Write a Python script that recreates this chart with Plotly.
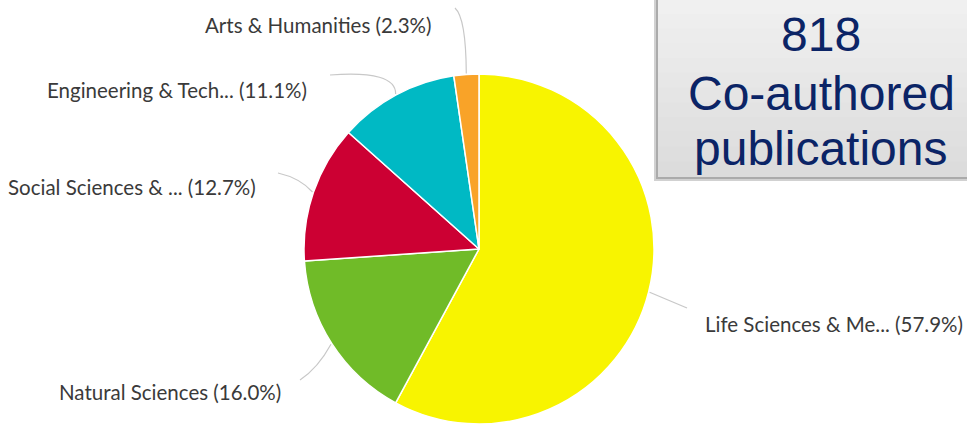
import numpy as np
import plotly.graph_objects as go

# ---- data ----
categories = ["Life Sciences & Me...", "Natural Sciences", "Social Sciences & ...",
              "Engineering & Tech...", "Arts & Humanities"]
shares = [57.9, 16.0, 12.7, 11.1, 2.3]
colors = ["#F8F400", "#70BB28", "#CC0033", "#00B9C4", "#F9A328"]
total_pubs = 818
box_lines = [str(total_pubs), "Co-authored", "publications"]

W, H = 967, 439
CX, CY, R = 479, 249, 175  # pie placement in pixels (layout)
LABEL_FONT = "Lato"

def px(x):
    return x / W

def py(y):
    return 1 - y / H

fig = go.Figure()
fig.add_trace(go.Pie(
    labels=categories, values=shares, sort=False, direction="clockwise", rotation=0,
    marker=dict(colors=colors, line=dict(color="white", width=1.5)),
    textinfo="none", hoverinfo="label+percent", showlegend=False,
    domain=dict(x=[px(CX - R), px(CX + R)], y=[py(CY + R), py(CY - R)]),
))

# label layout: (anchor x, y, xanchor, leader start, control point)
label_layout = [
    (703, 324, "left", (687, 308), (668, 300)),
    (283, 392, "right", (300, 380), (318, 368)),
    (258, 187, "right", (278, 173), (300, 178)),
    (309, 90, "right", (330, 75), (396, 70)),
    (434, 25, "right", (455, 8), (466, 18)),
]

shapes = []
annotations = []
cum = np.cumsum([0] + shares)
for i, (cat, val) in enumerate(zip(categories, shares)):
    mid = (cum[i] + val / 2) / sum(shares) * 2 * np.pi
    ex = CX + (R + 1) * np.sin(mid)
    ey = CY - (R + 1) * np.cos(mid)
    lx, ly, xa, (sx, sy), (qx, qy) = label_layout[i]
    shapes.append(dict(
        type="path", xref="paper", yref="paper",
        path=f"M {px(sx)} {py(sy)} Q {px(qx)} {py(qy)} {px(ex)} {py(ey)}",
        line=dict(color="#C8C8C8", width=1.2),
    ))
    annotations.append(dict(
        x=px(lx), y=py(ly), xref="paper", yref="paper", xanchor=xa, yanchor="middle",
        text=f"{cat} ({val:.1f}%)", showarrow=False,
        font=dict(family=LABEL_FONT, size=20.5, color="#3A3A3A"),
    ))

# info box with shadow
shapes.append(dict(type="rect", xref="paper", yref="paper", x0=px(654), x1=1.01,
                   y0=py(181), y1=1.01, fillcolor="rgba(0,0,0,0.18)", line=dict(width=0)))
shapes.append(dict(type="rect", xref="paper", yref="paper", x0=px(656), x1=1.01,
                   y0=py(179), y1=1.01, fillcolor="rgba(0,0,0,0.18)", line=dict(width=0)))
n_bands = 12
for k in range(n_bands):
    t = k / (n_bands - 1)
    g = int(round(240 - 20 * t))
    y_top = 177 * k / n_bands
    y_bot = 177 * (k + 1) / n_bands
    shapes.append(dict(type="rect", xref="paper", yref="paper", x0=px(658), x1=1.01,
                       y0=py(y_bot), y1=py(y_top - 1.0) if k > 0 else 1.01,
                       fillcolor=f"rgb({g},{g},{g})", line=dict(width=0)))

for txt, yy in zip(box_lines, [34, 93, 148]):
    annotations.append(dict(
        x=px(821), y=py(yy), xref="paper", yref="paper", xanchor="center", yanchor="middle",
        text=txt, showarrow=False,
        font=dict(family="Liberation Sans, Arial", size=48, color="#0B2466"),
    ))

fig.update_layout(
    width=W, height=H, margin=dict(l=0, r=0, t=0, b=0),
    paper_bgcolor="white", plot_bgcolor="white",
    shapes=shapes, annotations=annotations,
)
fig.write_html("out.html", post_script="document.body.style.margin='0px';",
               config={"displayModeBar": False})
